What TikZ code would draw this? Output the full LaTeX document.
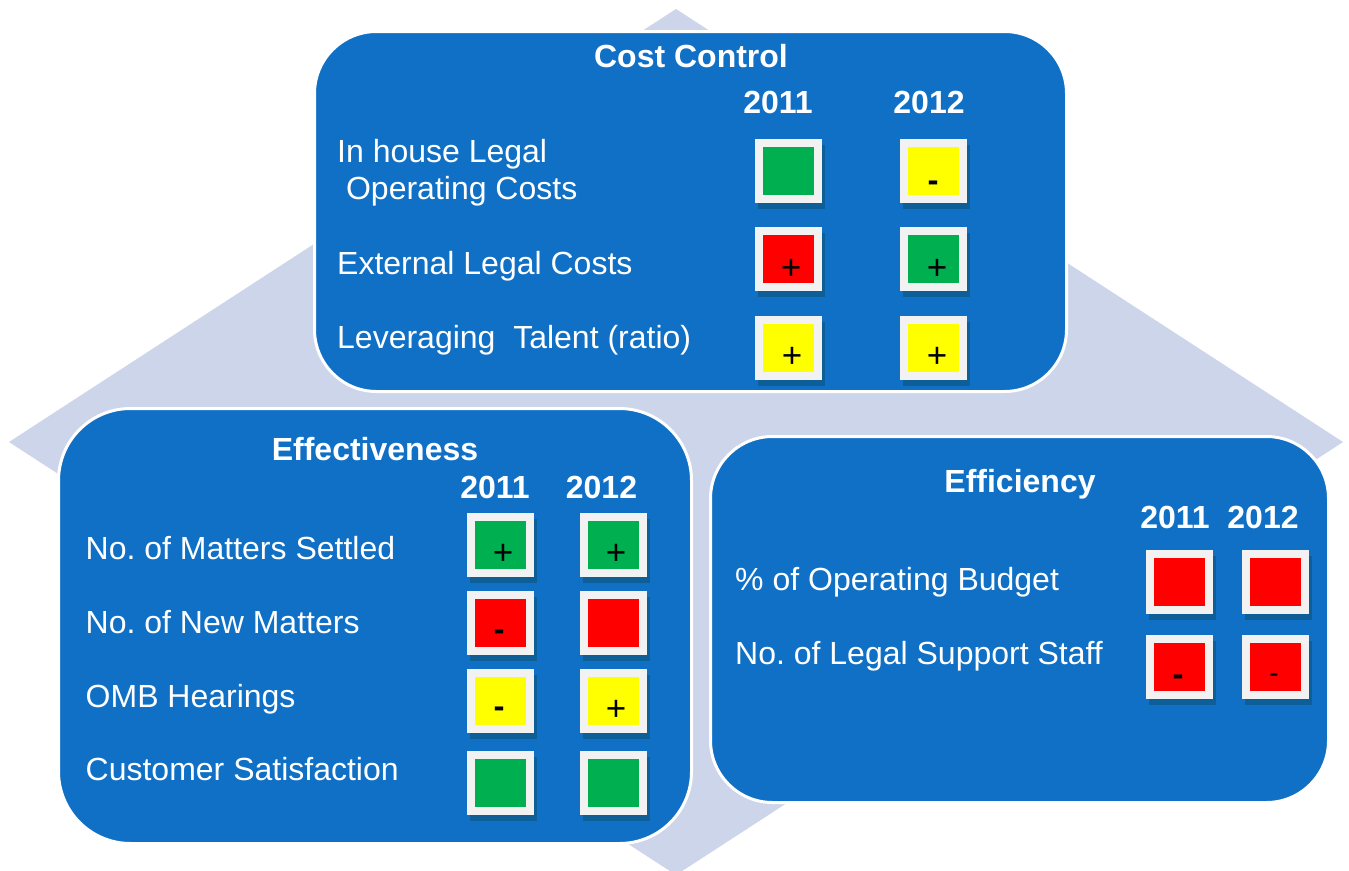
\documentclass[tikz,border=0pt]{standalone}
\usepackage{fontspec}
\setmainfont{Liberation Sans}
\frenchspacing
\definecolor{panelblue}{RGB}{16,112,198}
\definecolor{diamondgray}{RGB}{205,213,234}
\definecolor{framegray}{RGB}{242,242,242}
\definecolor{shadowblue}{RGB}{14,94,152}
\definecolor{okgreen}{RGB}{0,176,80}
\definecolor{badred}{RGB}{255,0,0}
\definecolor{warnyellow}{RGB}{255,255,0}
\newcommand\indbox[4]{%
  \fill[shadowblue] (#2+2.5,#3+5.5) rectangle ++(67,64);
  \node[indsq, fill=#4] (#1) at (#2+33.5,#3+32) {};
}
\begin{document}
\begin{tikzpicture}[x=1pt,y=-1pt,
  panel/.style={draw=white, line width=3pt, fill=panelblue, inner sep=0pt, outer sep=0pt},
  indsq/.style={draw=framegray, line width=8pt, minimum width=59pt, minimum height=56pt, inner sep=0pt, outer sep=0pt},
  lbl/.style={text=white, font=\fontsize{32}{38}\selectfont, anchor=base west, inner sep=0pt},
  ttl/.style={text=white, font=\fontsize{32}{38}\selectfont\bfseries, anchor=base, inner sep=0pt},
  plus/.style={text=black, font=\fontsize{35}{40}\selectfont, anchor=base, inner sep=0pt},
  minus/.style={text=black, font=\fontsize{33}{40}\selectfont\bfseries, anchor=base, inner sep=0pt},
  thinminus/.style={text=black, font=\fontsize{28}{34}\selectfont, anchor=base, inner sep=0pt}]
\useasboundingbox (0,0) rectangle (1349,870);
\clip (0,0) rectangle (1349,870);
\fill[white] (0,0) rectangle (1349,870);
% background diamond
\fill[diamondgray] (676,9) -- (1343,442) -- (676,875) -- (9,442) -- cycle;
% panels
\node[panel, rounded corners=62pt, minimum width=752pt, minimum height=360pt] (cost) at (690.5,211.5) {};
\node[panel, rounded corners=72pt, minimum width=633pt, minimum height=435pt] (effect) at (375,626) {};
\node[panel, rounded corners=62pt, minimum width=618pt, minimum height=366pt] (effic) at (1019.5,619.5) {};
% ---------------- Cost Control
\node[ttl] (costT) at (691,67) {Cost Control};
\node[ttl] (costY1) at (778,113) {2011};
\node[ttl] (costY2) at (929,113) {2012};
\node[lbl] (costL1a) at (337,162) {In house Legal};
\node[lbl] (costL1b) at (337,199) {\ Operating Costs};
\node[lbl] (costL2) at (337,274) {External Legal Costs};
\node[lbl] (costL3) at (337,348) {Leveraging\ \ Talent (ratio)};
\indbox{c11}{755}{139}{okgreen}
\indbox{c12}{900}{139}{warnyellow}
\indbox{c21}{755}{227}{badred}
\indbox{c22}{900}{227}{okgreen}
\indbox{c31}{755}{316}{warnyellow}
\indbox{c32}{900}{316}{warnyellow}
\node[minus] (s12) at (933,191) {-};
\node[plus] (s21) at (791,279) {+};
\node[plus] (s22) at (937,279) {+};
\node[plus] (s31) at (792,367) {+};
\node[plus] (s32) at (937,367) {+};
% ---------------- Effectiveness
\node[ttl] (effT) at (375,460) {Effectiveness};
\node[ttl] (effY1) at (495,498) {2011};
\node[ttl] (effY2) at (601.5,498) {2012};
\node[lbl] (effL1) at (85.5,559) {No. of Matters Settled};
\node[lbl] (effL2) at (85.5,633) {No. of New Matters};
\node[lbl] (effL3) at (85.5,707) {OMB Hearings};
\node[lbl] (effL4) at (85.5,780) {Customer Satisfaction};
\indbox{e11}{467}{513}{okgreen}
\indbox{e12}{580}{513}{okgreen}
\indbox{e21}{467}{591}{badred}
\indbox{e22}{580}{591}{badred}
\indbox{e31}{467}{669}{warnyellow}
\indbox{e32}{580}{669}{warnyellow}
\indbox{e41}{467}{751}{okgreen}
\indbox{e42}{580}{751}{okgreen}
\node[plus] (t11) at (503,564) {+};
\node[plus] (t12) at (616,564) {+};
\node[minus] (t21) at (499,640) {-};
\node[minus] (t31) at (499,717) {-};
\node[plus] (t32) at (616,720) {+};
% ---------------- Efficiency
\node[ttl] (ficT) at (1020,492) {Efficiency};
\node[ttl] (ficY1) at (1175,528) {2011};
\node[ttl] (ficY2) at (1263,528) {2012};
\node[lbl] (ficL1) at (735,590) {\% of Operating Budget};
\node[lbl] (ficL2) at (735,664) {No. of Legal Support Staff};
\indbox{f11}{1146}{550}{badred}
\indbox{f12}{1242}{550}{badred}
\indbox{f21}{1146}{635}{badred}
\indbox{f22}{1242}{635}{badred}
\node[minus] (u21) at (1178,685) {-};
\node[thinminus] (u22) at (1274,682) {-};
\end{tikzpicture}
\end{document}
